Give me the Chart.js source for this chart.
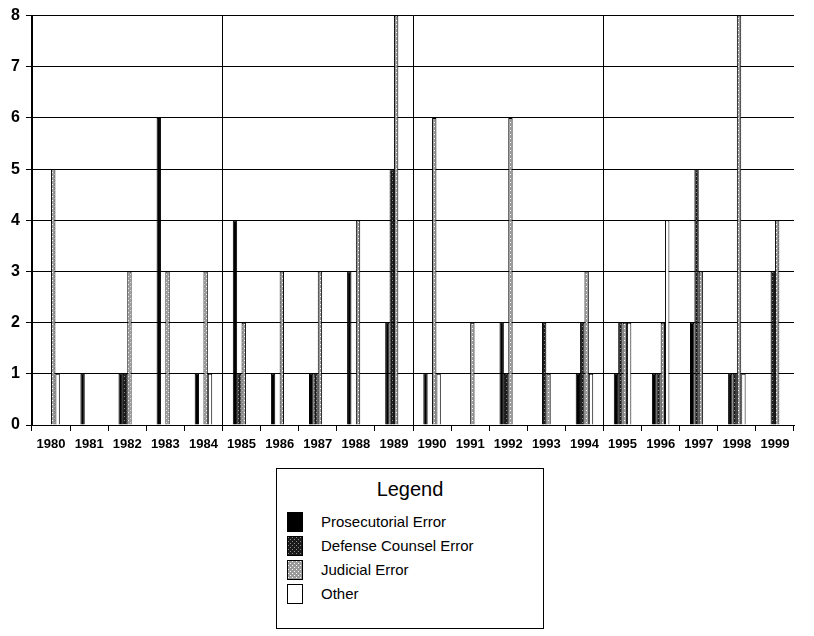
<!DOCTYPE html>
<html>
<head>
<meta charset="utf-8">
<script src="https://cdn.jsdelivr.net/npm/chart.js@4.4.0/dist/chart.umd.min.js"></script>
<style>
  body { margin: 0; background: #fff; font-family: "Liberation Sans", Arial, sans-serif; }
  #wrap { position: relative; width: 814px; height: 636px; }
  #grafico { position: absolute; left: 0; top: 0; }
  #legenda { position: absolute; left: 276px; top: 468px; width: 268px; height: 161px;
             border: 1px solid #000; box-sizing: border-box; }
  #legenda h3 { margin: 0; padding-top: 9px; text-align: center; font-weight: normal; font-size: 20px; }
  #legenda .item { position: absolute; left: 10px; height: 20px; font-size: 15px; }
  #legenda .item canvas { position: absolute; left: 0; top: 0; border: 1px solid #000; }
  #legenda .item span { position: absolute; left: 34px; top: 1px; white-space: nowrap; }
</style>
</head>
<body>
<div id="wrap">
  <canvas id="grafico" width="814" height="460"></canvas>
  <div id="legenda"><h3>Legend</h3></div>
</div>
<script>
// anos e numero de casos por tipo de erro
const anos = ['1980','1981','1982','1983','1984','1985','1986','1987','1988','1989',
              '1990','1991','1992','1993','1994','1995','1996','1997','1998','1999']
const prosecutorial = [0,1,1,6,1,4,1,1,3,2,1,0,2,0,1,1,1,2,1,0]
const defense       = [0,0,1,0,0,1,0,1,0,5,0,0,1,2,2,2,1,5,1,3]
const judicial      = [5,0,3,3,3,2,3,3,4,8,6,2,6,1,3,2,2,3,8,4]
const outros        = [1,0,0,0,1,0,0,0,0,0,1,0,0,0,1,2,4,0,1,0]
const nomes = ['Prosecutorial Error','Defense Counsel Error','Judicial Error','Other']

// padrao pontilhado para imitar a textura da impressao
function padrao(fundo, ponto, pontos) {
    const c = document.createElement('canvas')
    c.width = 4; c.height = 4
    const g = c.getContext('2d')
    g.fillStyle = fundo
    g.fillRect(0, 0, 4, 4)
    g.fillStyle = ponto
    for (const p of pontos) g.fillRect(p[0], p[1], 1, 1)
    return c
}
const ctx = document.getElementById('grafico').getContext('2d')
const texturaDefesa = ctx.createPattern(padrao('#1a1a1a', '#8a8a8a', [[0,0],[2,2]]), 'repeat')
const texturaJuiz = ctx.createPattern(padrao('#9a9a9a', '#ffffff', [[0,0],[2,2]]), 'repeat')
const cores = ['#000000', texturaDefesa, texturaJuiz, '#ffffff']
const valores = [prosecutorial, defense, judicial, outros]

const datasets = nomes.map(function(nome, i) {
    return {
        label: nome,
        data: valores[i],
        backgroundColor: cores[i],
        borderColor: '#000',
        borderWidth: 1,
        categoryPercentage: 0.46,
        barPercentage: 1
    }
})

const grafico = new Chart(ctx, {
    type: 'bar',
    data: { labels: anos, datasets: datasets },
    options: {
        responsive: false,
        animation: false,
        layout: { padding: { top: 12, right: 20, left: 0, bottom: 0 } },
        plugins: { legend: { display: false }, tooltip: { enabled: false } },
        scales: {
            x: {
                offset: true,
                grid: {
                    offset: true,
                    color: function(c) { return c.index % 5 === 0 ? '#000' : 'rgba(0,0,0,0)' },
                    tickColor: '#000',
                    tickLength: 6,
                    lineWidth: 1
                },
                border: { color: '#000', width: 1 },
                ticks: { color: '#000', padding: 6, maxRotation: 0, autoSkip: false,
                         font: { family: 'Liberation Sans', size: 13, weight: 'bold' } },
                afterFit: function(s) { s.height = 35 }
            },
            y: {
                min: 0, max: 8,
                ticks: { stepSize: 1, color: '#000', padding: 6,
                         font: { family: 'Liberation Sans', size: 16, weight: 'bold' } },
                grid: { color: '#000', lineWidth: 1, tickLength: 6, tickColor: '#000' },
                border: { color: '#000', width: 1 },
                afterFit: function(s) { s.width = 32 }
            }
        }
    }
})

// legenda desenhada como caixa separada, igual ao original
const legenda = document.getElementById('legenda')
nomes.forEach(function(nome, i) {
    const item = document.createElement('div')
    item.className = 'item'
    item.style.top = (43 + i * 24) + 'px'
    const amostra = document.createElement('canvas')
    amostra.width = 14; amostra.height = 18
    const g = amostra.getContext('2d')
    g.fillStyle = i === 1 ? g.createPattern(padrao('#1a1a1a', '#8a8a8a', [[0,0],[2,2]]), 'repeat')
                : i === 2 ? g.createPattern(padrao('#9a9a9a', '#ffffff', [[0,0],[2,2]]), 'repeat')
                : cores[i]
    g.fillRect(0, 0, 14, 18)
    const txt = document.createElement('span')
    txt.textContent = nome
    item.appendChild(amostra)
    item.appendChild(txt)
    legenda.appendChild(item)
})
</script>
</body>
</html>
